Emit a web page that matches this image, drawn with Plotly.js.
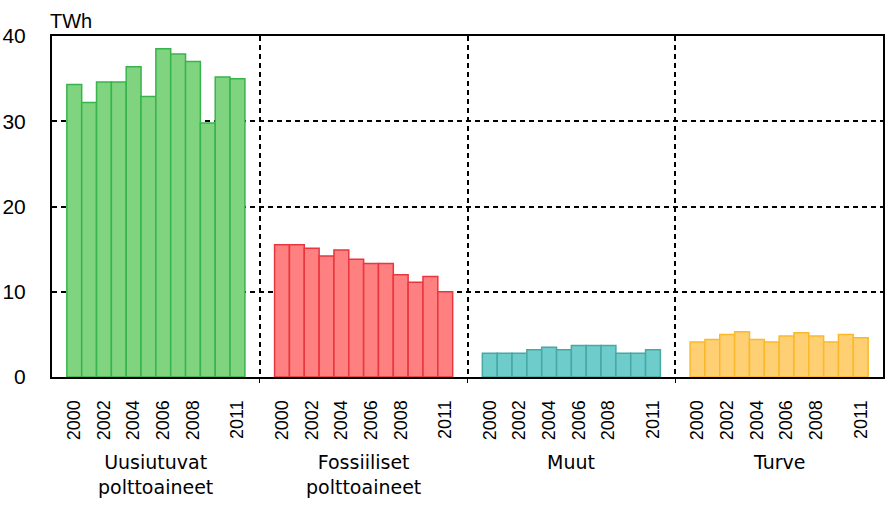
<!DOCTYPE html>
<html>
<head>
<meta charset="utf-8">
<script src="https://cdn.plot.ly/plotly-3.0.1.min.js"></script>
<style>
  html, body { margin: 0; padding: 0; background: white; }
  #chart { width: 889px; height: 512px; }
</style>
</head>
<body>
<div id="chart"></div>
<script>
// vuodet 2000-2011, TWh
var years = [2000, 2001, 2002, 2003, 2004, 2005, 2006, 2007, 2008, 2009, 2010, 2011];
var labelYears = [2000, 2002, 2004, 2006, 2008, 2011];

var groups = ["Uusiutuvat<br>polttoaineet", "Fossiiliset<br>polttoaineet", "Muut", "Turve"];

var uusiutuvat = [34.3, 32.2, 34.6, 34.6, 36.4, 32.9, 38.5, 37.9, 37.0, 29.8, 35.2, 35.0];
var fossiiliset = [15.5, 15.5, 15.1, 14.2, 14.9, 13.8, 13.3, 13.3, 12.0, 11.1, 11.8, 10.0];
var muut = [2.8, 2.8, 2.8, 3.2, 3.5, 3.2, 3.7, 3.7, 3.7, 2.8, 2.8, 3.2];
var turve = [4.1, 4.4, 5.0, 5.3, 4.4, 4.1, 4.8, 5.2, 4.8, 4.1, 5.0, 4.6];

var series = [uusiutuvat, fossiiliset, muut, turve];
var fills = ['#80d480', '#ff8080', '#6ecdcb', '#ffd073'];
var edges = ['#36b54c', '#e8363e', '#47a8a6', '#fbb829'];

var slot = 14; // one empty slot each side of the 12 bars

function pos(g, yr) { return g * slot + 1.5 + years.indexOf(yr); }

var data = series.map(function (vals, g) {
    return {
        type: 'bar',
        x: years.map(function (yr) { return pos(g, yr); }),
        y: vals,
        width: 1,
        marker: { color: fills[g], line: { color: edges[g], width: 1.5 } },
        hoverinfo: 'y',
        showlegend: false
    };
});

var tickvals = [], ticktext = [];
groups.forEach(function (name, g) {
    labelYears.forEach(function (yr) {
        tickvals.push(pos(g, yr));
        ticktext.push(String(yr));
    });
});

var annotations = groups.map(function (name, g) {
    return {
        text: name, xref: 'x', yref: 'paper',
        x: g * slot + slot / 2, y: 0, yanchor: 'top', yshift: -72,
        showarrow: false, align: 'center',
        font: { family: 'DejaVu Sans', size: 19, color: '#000' }
    };
});
annotations.push({
    text: 'TWh', xref: 'paper', yref: 'paper', x: 0, y: 1,
    xanchor: 'left', yanchor: 'bottom', yshift: 2, xshift: -4,
    showarrow: false,
    font: { family: 'Liberation Sans', size: 20, color: '#000' }
});

var layout = {
    width: 889, height: 512,
    margin: { l: 52, r: 6, t: 36, b: 135 },
    paper_bgcolor: 'white',
    plot_bgcolor: 'white',
    bargap: 0,
    font: { family: 'Liberation Sans', color: '#000' },
    xaxis: {
        range: [0, slot * groups.length],
        tickmode: 'array', tickvals: tickvals, ticktext: ticktext,
        tickangle: -90, ticks: '', ticklabelstandoff: 14,
        tickfont: { size: 18 },
        showgrid: false, zeroline: false,
        showline: true, linecolor: '#000', linewidth: 2, mirror: true,
        minor: {
            tickvals: [slot, slot * 2, slot * 3],
            ticks: 'outside', ticklen: 4, tickcolor: '#000', tickwidth: 1,
            showgrid: true, gridcolor: '#000', gridwidth: 2, griddash: '5px,4px'
        }
    },
    yaxis: {
        range: [0, 40], tickvals: [0, 10, 20, 30, 40],
        ticks: '', ticklabelstandoff: 20,
        tickfont: { size: 21 },
        showgrid: true, gridcolor: '#000', gridwidth: 2, griddash: '5px,4px',
        zeroline: false,
        showline: true, linecolor: '#000', linewidth: 2, mirror: true
    },
    annotations: annotations
};

Plotly.newPlot('chart', data, layout, { staticPlot: true });
</script>
</body>
</html>
